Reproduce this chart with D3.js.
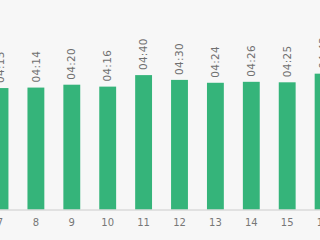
<!DOCTYPE html>
<html>
<head>
<meta charset="utf-8">
<script src="https://cdn.jsdelivr.net/npm/d3@7"></script>
<style>
  html, body { margin: 0; padding: 0; background: #f7f7f7; }
  svg { display: block; }
</style>
</head>
<body>
<div id="chart"></div>
<script>
// lap number and lap time (seconds)
var laps = ["7", "8", "9", "10", "11", "12", "13", "14", "15", "16"];
var lapSeconds = [253, 254, 260, 256, 280, 270, 264, 266, 265, 283];

function fmtTime(s) {
    var m = Math.floor(s / 60), r = s % 60;
    return (m < 10 ? "0" : "") + m + ":" + (r < 10 ? "0" : "") + r;
}

var w = 320, h = 240;
var step = 35.9;
var baseY = 209.5;

var svg = d3.select("#chart")
    .append("svg")
    .attr("width", w)
    .attr("height", h);

var x = d3.scaleBand()
    .domain(laps)
    .range([-step / 2, -step / 2 + step * laps.length])
    .paddingInner(0.53)
    .paddingOuter(0.265);

var y = d3.scaleLinear()
    .domain([0, 300])
    .range([baseY, baseY - 144]);

// bars
svg.selectAll("rect.bar")
    .data(lapSeconds)
    .enter().append("rect")
    .attr("class", "bar")
    .attr("x", function(d, i) { return x(laps[i]); })
    .attr("y", function(d) { return y(d); })
    .attr("width", x.bandwidth())
    .attr("height", function(d) { return baseY - y(d); })
    .style("fill", "#35b47a");

// value labels, rotated
svg.selectAll("text.val")
    .data(lapSeconds)
    .enter().append("text")
    .attr("class", "val")
    .attr("transform", function(d, i) {
        return "translate(" + (x(laps[i]) + x.bandwidth() / 2) + "," + (y(d) - 5) + ") rotate(-90)";
    })
    .attr("dy", "0.35em")
    .style("font-family", "DejaVu Sans, sans-serif")
    .style("font-size", "10.5px")
    .style("letter-spacing", "0.3px")
    .style("fill", "#707070")
    .text(function(d) { return fmtTime(d); });

// x axis
var axis = svg.append("g")
    .attr("transform", "translate(0," + baseY + ")")
    .call(d3.axisBottom(x).tickSize(0).tickPadding(9));
axis.select(".domain").attr("stroke", "#ccc");
axis.selectAll("text")
    .style("font-family", "DejaVu Sans, sans-serif")
    .style("font-size", "10px")
    .style("fill", "#777");
</script>
</body>
</html>
